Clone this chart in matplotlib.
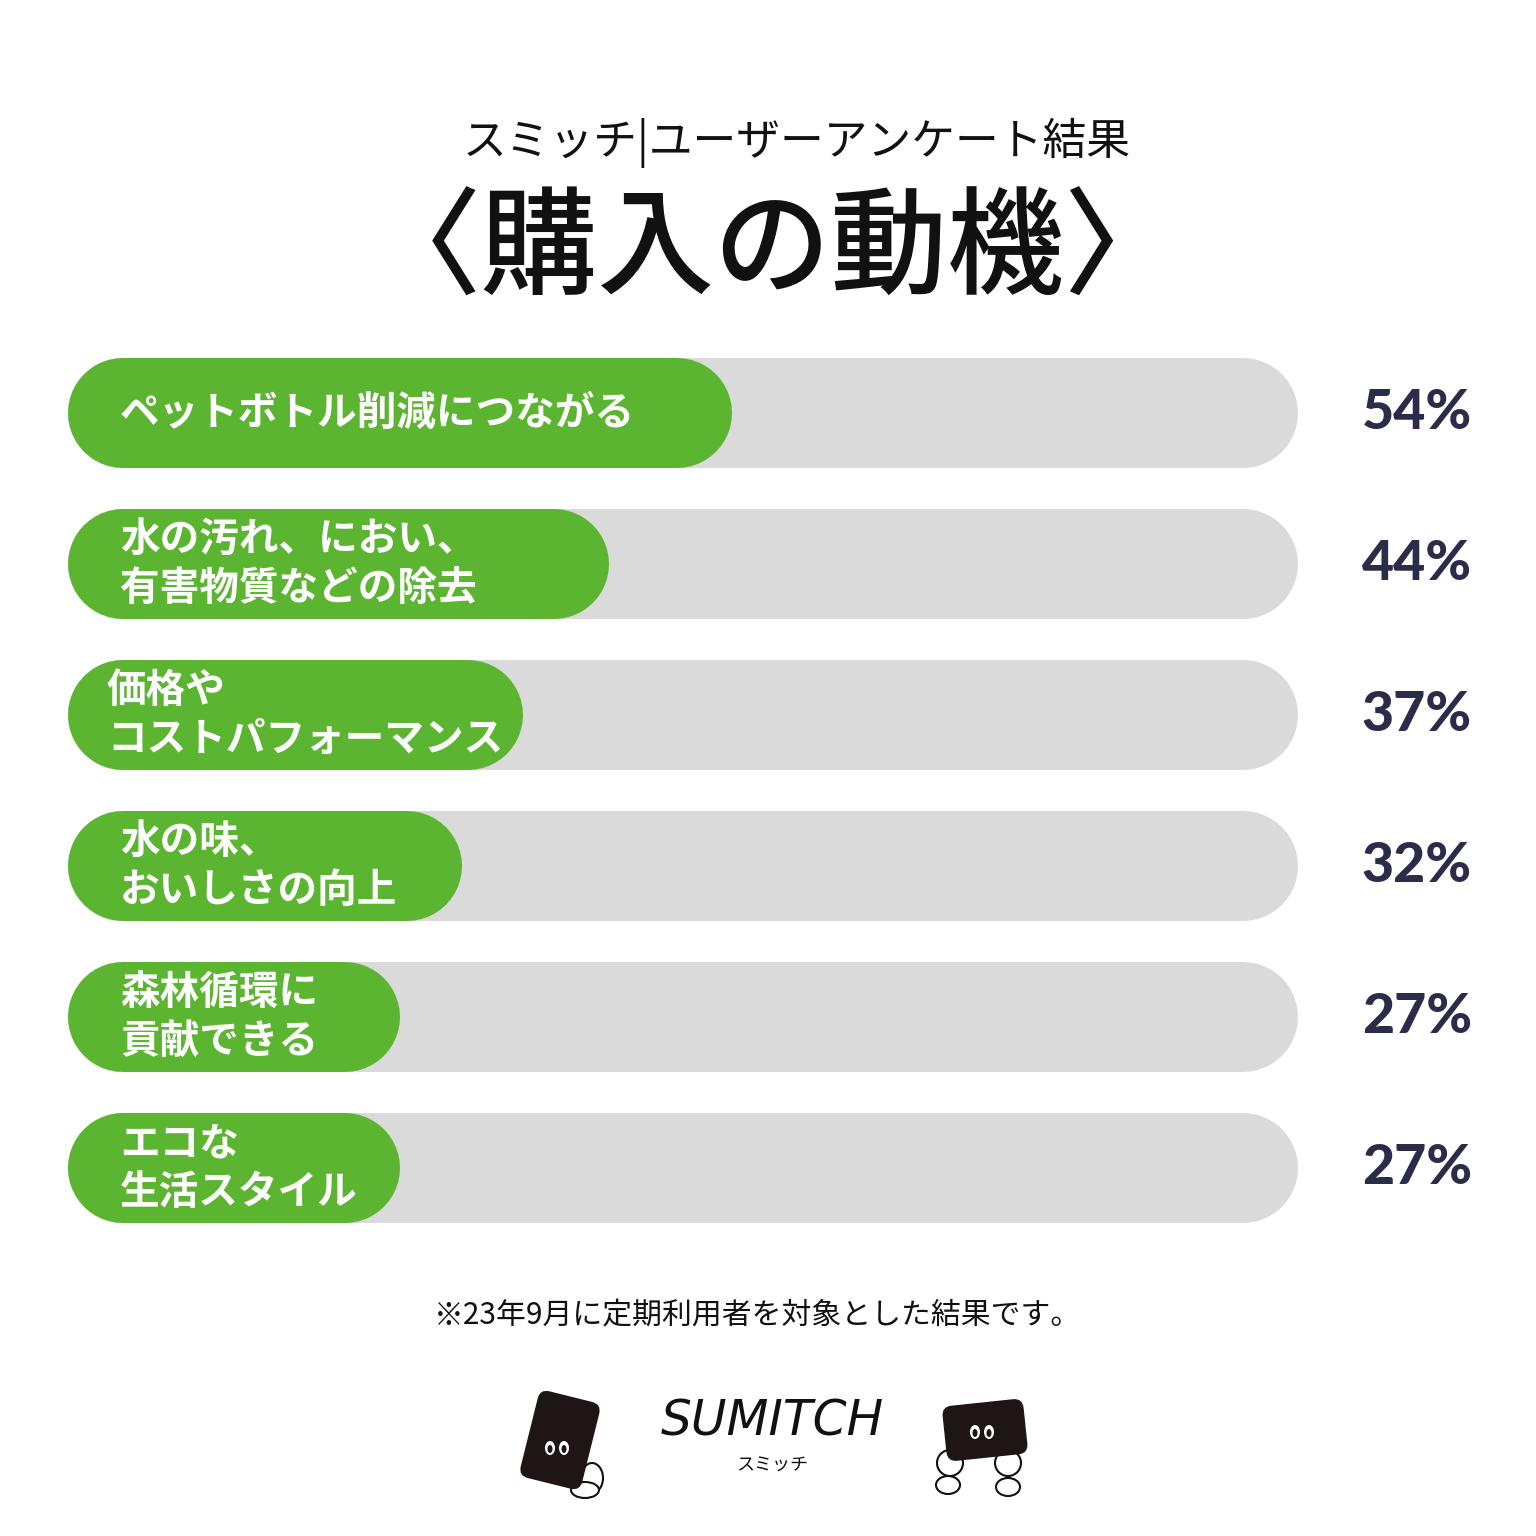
import matplotlib

matplotlib.use("Agg")
import matplotlib.pyplot as plt
from matplotlib.patches import Ellipse, FancyBboxPatch
from matplotlib.transforms import Affine2D, blended_transform_factory

plt.rcParams["font.family"] = ["Noto Sans CJK JP", "DejaVu Sans"]

# survey data
labels = [
    "ペットボトル削減につながる",
    "水の汚れ、におい、\n有害物質などの除去",
    "価格や\nコストパフォーマンス",
    "水の味、\nおいしさの向上",
    "森林循環に\n貢献できる",
    "エコな\n生活スタイル",
]
values = [54, 44, 37, 32, 27, 27]
value_labels = ["54%", "44%", "37%", "32%", "27%", "27%"]

GREEN = "#5cb531"
TRACK = "#dadada"
NAVY = "#2b2c4a"
W = H = 1536
DPI = 100

# where each label starts (figure px)
label_x = [120, 120, 107, 120, 120, 120]

fig = plt.figure(figsize=(W / DPI, H / DPI), dpi=DPI)
fig.patch.set_facecolor("white")

# bars axis: x in percent, track spans px 68..1298
row_px = 151
top_px = 413 - 0.6 * row_px
ax = fig.add_axes([68 / W, 1 - (top_px + 6.2 * row_px) / H, 1230 / W, 6.2 * row_px / H])
ax.set_xlim(0, 100)
ax.set_ylim(5.6, -0.6)
ax.axis("off")

bar_px = 110
lw = bar_px * 72 / DPI
r = (bar_px / 2) / (1230 / 100)  # cap radius in percent units

tr = blended_transform_factory(fig.transFigure, ax.transData)
for i, (lab, val) in enumerate(zip(labels, values)):
    ax.plot([r, 100 - r], [i, i], color=TRACK, lw=lw, solid_capstyle="round", zorder=1)
    ax.plot([r, val - r], [i, i], color=GREEN, lw=lw, solid_capstyle="round", zorder=2)
    fig.text(label_x[i] / W, i, lab, transform=tr, ha="left", va="center",
             color="white", fontsize=28.5, fontweight="bold", linespacing=1.25,
             zorder=3)
    fig.text(1472 / W, i, value_labels[i], transform=tr, ha="right",
             va="center", color=NAVY, fontsize=40, fontweight="black",
             family=["Lato", "DejaVu Sans"])

# overlay in pixel coordinates for titles and logo
ov = fig.add_axes([0, 0, 1, 1], zorder=-1)
ov.set_xlim(0, W)
ov.set_ylim(H, 0)
ov.axis("off")

ov.text(797, 143, "スミッチ|ユーザーアンケート結果", ha="center", va="center",
        fontsize=31.5, color="#111111")
ov.text(773, 252, "〈購入の動機〉", ha="center", va="center", fontsize=84,
        color="#111111", fontweight="medium")
ov.text(758, 1316, "※23年9月に定期利用者を対象とした結果です。", ha="center",
        va="center", fontsize=21.5, color="#111111")

ov.text(772, 1422, "SUMITCH", ha="center", va="center", fontsize=35,
        color="#111111", fontweight="light", family=["DejaVu Sans"],
        fontstyle="oblique")
ov.text(772, 1466, "スミッチ", ha="center", va="center", fontsize=13,
        color="#111111")


def mascot(cx, cy, w, h, angle, eye_dx, eye_dy, limbs):
    rot = Affine2D().rotate_deg_around(cx, cy, angle) + ov.transData
    for lx, ly, lw_, lh_ in limbs:
        ov.add_patch(Ellipse((lx, ly), lw_, lh_, facecolor="white",
                             edgecolor="#111111", lw=1.5, zorder=1))
    body = FancyBboxPatch((cx - w / 2, cy - h / 2), w, h,
                          boxstyle="round,pad=0,rounding_size=9",
                          facecolor="#1e1614", edgecolor="#1e1614",
                          transform=rot, zorder=2)
    ov.add_patch(body)
    for dx in (-7, 7):
        ov.add_patch(Ellipse((cx + eye_dx + dx, cy + eye_dy), 10, 14,
                             facecolor="white", edgecolor="none", zorder=3))
        ov.add_patch(Ellipse((cx + eye_dx + dx, cy + eye_dy + 1), 5, 8,
                             facecolor="#1e1614", edgecolor="none", zorder=4))


mascot(560, 1440, 62, 88, 14, -3, 8,
       [(592, 1478, 22, 30), (585, 1490, 28, 16)])
mascot(985, 1430, 80, 54, -6, -3, 2,
       [(950, 1463, 26, 26), (1008, 1463, 26, 26),
        (948, 1485, 24, 18), (1008, 1487, 24, 18)])

fig.savefig("out.png", dpi=DPI, facecolor="white")
